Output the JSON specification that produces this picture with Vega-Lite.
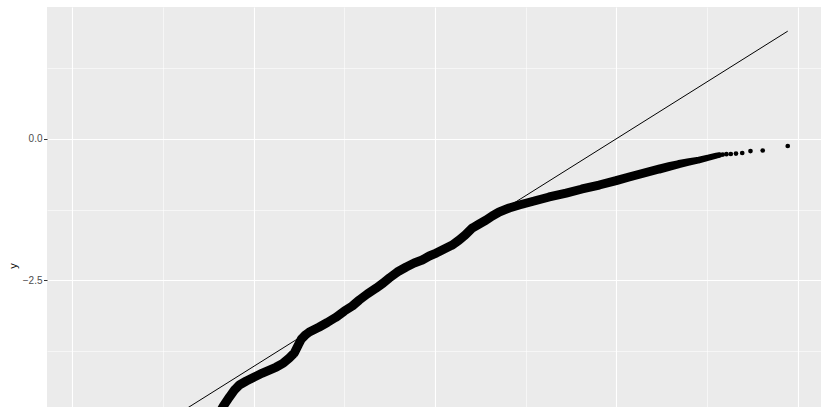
{
  "$schema": "https://vega.github.io/schema/vega-lite/v6.json",
  "width": 776,
  "height": 472,
  "autosize": "none",
  "padding": {"left": 47, "top": 7, "right": 0, "bottom": 0},
  "background": "white",
  "config": {"view": {"fill": "#EBEBEB", "stroke": null}, "font": "Liberation Sans"},
  "datasets": {
    "qq": [
      {"x": -2.819, "y": -5.842}, {"x": -2.599, "y": -5.436}, {"x": -2.467, "y": -5.101}, {"x": -2.401, "y": -4.907},
      {"x": -2.334, "y": -4.714}, {"x": -2.268, "y": -4.555}, {"x": -2.213, "y": -4.432}, {"x": -2.158, "y": -4.343},
      {"x": -2.081, "y": -4.273}, {"x": -1.993, "y": -4.202}, {"x": -1.904, "y": -4.132}, {"x": -1.827, "y": -4.079},
      {"x": -1.750, "y": -4.026}, {"x": -1.673, "y": -3.956}, {"x": -1.607, "y": -3.867}, {"x": -1.552, "y": -3.779},
      {"x": -1.508, "y": -3.638}, {"x": -1.474, "y": -3.533}, {"x": -1.430, "y": -3.462}, {"x": -1.386, "y": -3.409},
      {"x": -1.276, "y": -3.321}, {"x": -1.188, "y": -3.242}, {"x": -1.089, "y": -3.145}, {"x": -1.000, "y": -3.039},
      {"x": -0.912, "y": -2.951}, {"x": -0.835, "y": -2.845}, {"x": -0.747, "y": -2.739}, {"x": -0.648, "y": -2.634},
      {"x": -0.571, "y": -2.545}, {"x": -0.504, "y": -2.457}, {"x": -0.416, "y": -2.352}, {"x": -0.317, "y": -2.263},
      {"x": -0.229, "y": -2.193}, {"x": -0.141, "y": -2.140}, {"x": -0.063, "y": -2.069}, {"x": 0.014, "y": -2.017},
      {"x": 0.102, "y": -1.946}, {"x": 0.190, "y": -1.876}, {"x": 0.267, "y": -1.787}, {"x": 0.333, "y": -1.699},
      {"x": 0.411, "y": -1.576}, {"x": 0.488, "y": -1.505}, {"x": 0.565, "y": -1.435}, {"x": 0.631, "y": -1.364},
      {"x": 0.708, "y": -1.294}, {"x": 0.819, "y": -1.223}, {"x": 0.929, "y": -1.170}, {"x": 1.094, "y": -1.100},
      {"x": 1.260, "y": -1.029}, {"x": 1.447, "y": -0.959}, {"x": 1.623, "y": -0.888}, {"x": 1.811, "y": -0.818},
      {"x": 1.998, "y": -0.739}, {"x": 2.141, "y": -0.677}, {"x": 2.307, "y": -0.606}, {"x": 2.472, "y": -0.536},
      {"x": 2.582, "y": -0.492}, {"x": 2.693, "y": -0.448}, {"x": 2.803, "y": -0.412}, {"x": 2.913, "y": -0.377},
      {"x": 3.023, "y": -0.333}, {"x": 3.104, "y": -0.300}, {"x": 3.137, "y": -0.290}, {"x": 3.174, "y": -0.282},
      {"x": 3.215, "y": -0.275}, {"x": 3.263, "y": -0.271}, {"x": 3.320, "y": -0.263}, {"x": 3.389, "y": -0.254},
      {"x": 3.480, "y": -0.219}, {"x": 3.615, "y": -0.210}, {"x": 3.891, "y": -0.130}
    ],
    "ref": [
      {"x": -3.891, "y": -5.912},
      {"x": 3.891, "y": 1.894}
    ]
  },
  "resolve": {"axis": {"x": "independent", "y": "independent"}},
  "layer": [
    {
      "data": {"name": "qq"},
      "transform": [{"filter": "datum.x <= 3.16"}],
      "mark": {"type": "trail", "color": "black"},
      "encoding": {
        "x": {"field": "x", "type": "quantitative", "scale": {"domain": [-4.28, 4.28], "nice": false, "zero": false},
          "axis": {"orient": "top", "values": [-3, -1, 1, 3], "grid": true, "gridColor": "white", "gridWidth": 0.55, "labels": false, "ticks": false, "domain": false, "title": null}},
        "y": {"field": "y", "type": "quantitative", "scale": {"domain": [-6, 2.32], "nice": false, "zero": false},
          "axis": {"orient": "right", "values": [-3.75, -1.25, 1.25], "grid": true, "gridColor": "white", "gridWidth": 0.55, "labels": false, "ticks": false, "domain": false, "title": null}},
        "size": {"field": "x", "type": "quantitative", "scale": {"domain": [2.5, 3.16], "range": [9, 5.5], "clamp": true}, "legend": null}
      }
    },
    {
      "data": {"name": "qq"},
      "mark": {"type": "circle", "color": "black", "size": 22, "opacity": 1},
      "encoding": {
        "x": {"field": "x", "type": "quantitative",
          "axis": {"orient": "bottom", "values": [-4, -2, 0, 2, 4], "grid": true, "gridColor": "white", "gridWidth": 1.1, "domain": false, "labels": false, "ticks": false, "title": null}},
        "y": {"field": "y", "type": "quantitative",
          "axis": {"orient": "left", "values": [-2.5, 0], "format": ".1f", "grid": true, "gridColor": "white", "gridWidth": 1.1, "domain": false,
            "tickColor": "#333333", "tickSize": 3.5, "tickWidth": 1, "labelColor": "#4D4D4D", "labelFontSize": 10, "labelPadding": 1.5,
            "title": "y", "titleFontSize": 11, "titleFontWeight": "normal", "titleColor": "black", "titlePadding": 4, "titleY": 258.5}}
      }
    },
    {
      "data": {"name": "ref"},
      "mark": {"type": "line", "color": "black", "strokeWidth": 1},
      "encoding": {
        "x": {"field": "x", "type": "quantitative", "axis": null},
        "y": {"field": "y", "type": "quantitative", "axis": null}
      }
    }
  ]
}
